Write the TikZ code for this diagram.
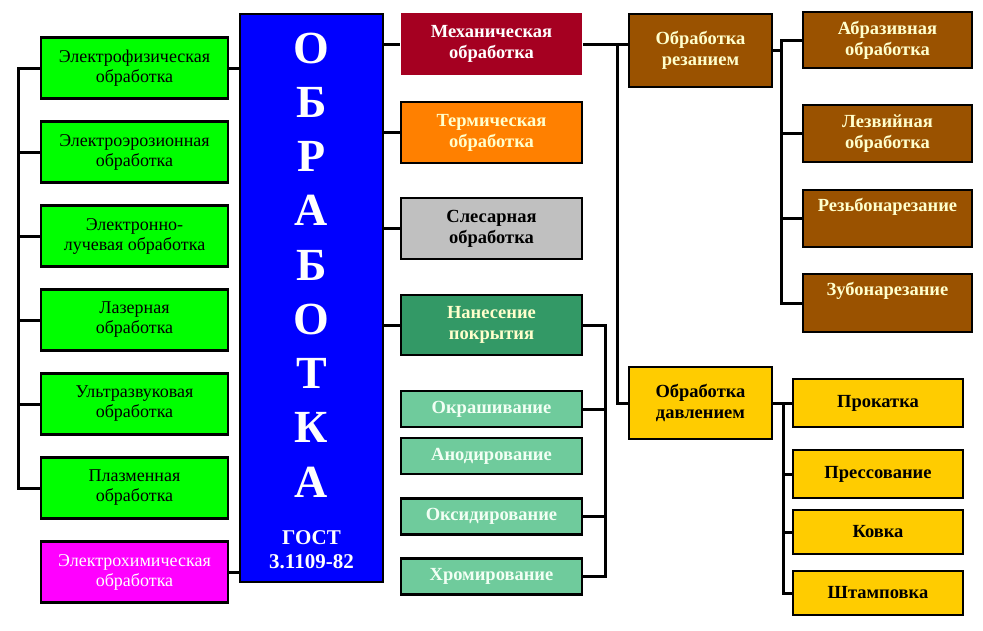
\documentclass[tikz,border=0pt]{standalone}
\usepackage{fontspec}
\setmainfont{Liberation Serif}

\definecolor{verde}{HTML}{00FF00}
\definecolor{rosa}{HTML}{FF00FF}
\definecolor{blu}{HTML}{0000FF}
\definecolor{cremisi}{HTML}{A50021}
\definecolor{arancio}{HTML}{FF8000}
\definecolor{grigio}{HTML}{C0C0C0}
\definecolor{verdescuro}{HTML}{339966}
\definecolor{verdechiaro}{HTML}{6FCB9C}
\definecolor{marrone}{HTML}{9A5200}
\definecolor{giallo}{HTML}{FFCC00}
\definecolor{crema}{HTML}{FFFFCC}
\definecolor{quasibianco}{HTML}{F2FFF4}

\begin{document}
\begin{tikzpicture}[x=1pt, y=-1pt,
    box/.style={draw=black, line width=2.8pt, align=center, inner sep=2pt},
    boxsin/.style={box, fill=verde, minimum width=187pt, minimum height=61pt, font=\fontsize{18}{20}\selectfont},
    boxmed/.style={box, minimum width=181pt, font=\fontsize{18.5}{21}\selectfont\bfseries},
    boxcop/.style={boxmed, fill=verdechiaro, text=quasibianco, minimum height=36pt},
    boxmar/.style={box, fill=marrone, text=crema, minimum width=169pt, font=\fontsize{18.5}{21}\selectfont\bfseries},
    boxgia/.style={box, fill=giallo, minimum width=170pt, minimum height=48pt, font=\fontsize{18.5}{21}\selectfont\bfseries},
    linea/.style={line width=3pt}]

    % Sfondo
    \fill[white] (0,0) rectangle (983,630);

    % Blocco centrale
    \node[box, fill=blu, minimum width=143pt, minimum height=568pt] (obr) at (311.5,298) {};
    \foreach \ch [count=\i] in {О,Б,Р,А,Б,О,Т,К,А}
        \node[text=white, font=\fontsize{46}{46}\selectfont\bfseries] (let\i) at (311.5,{48+54.25*(\i-1)}) {\ch};
    \node[text=white, align=center, font=\fontsize{21}{24}\selectfont\bfseries] (gost) at (311.5,550) {ГОСТ\\3.1109-82};

    % Colonna sinistra
    \node[boxsin] (efiz) at (134.5,68) {Электрофизическая\\обработка};
    \node[boxsin] (eero) at (134.5,152) {Электроэрозионная\\обработка};
    \node[boxsin] (eluc) at (134.5,236) {Электронно-\\лучевая обработка};
    \node[boxsin] (laser) at (134.5,320) {Лазерная\\обработка};
    \node[boxsin] (ultra) at (134.5,404) {Ультразвуковая\\обработка};
    \node[boxsin] (plasma) at (134.5,488) {Плазменная\\обработка};
    \node[boxsin, fill=rosa, text=white] (ehim) at (134.5,572) {Электрохимическая\\обработка};

    % Colonna centrale
    \node[boxmed, draw=none, fill=cremisi, text=white, minimum height=62pt] (mech) at (491.5,44) {Механическая\\обработка};
    \node[boxmed, fill=arancio, text=crema, minimum height=61pt] (term) at (491.5,132.5) {Термическая\\обработка};
    \node[boxmed, fill=grigio, minimum height=61pt] (sles) at (491.5,228.5) {Слесарная\\обработка};
    \node[boxmed, fill=verdescuro, text=crema, minimum height=60pt] (pokr) at (491.5,325) {Нанесение\\покрытия};
    \node[boxcop] (okr) at (491.5,409) {Окрашивание};
    \node[boxcop] (anod) at (491.5,456) {Анодирование};
    \node[boxcop] (oks) at (491.5,516.5) {Оксидирование};
    \node[boxcop] (hrom) at (491.5,576.5) {Хромирование};

    % Resezione
    \node[boxmar, minimum width=143pt, minimum height=73pt] (rez) at (700.5,50.5) {Обработка\\резанием};
    \node[boxmar, minimum height=56pt] (abr) at (887.5,40) {Абразивная\\обработка};
    \node[boxmar, minimum height=57pt] (lezv) at (887.5,133.5) {Лезвийная\\обработка};
    \node[boxmar, minimum height=57pt] (rezb) at (887.5,218.5) {Резьбонарезание\\\strut};
    \node[boxmar, minimum height=58pt] (zub) at (887.5,303) {Зубонарезание\\\strut};

    % Pressione
    \node[boxgia, minimum width=143pt, minimum height=72pt] (dav) at (700.5,403) {Обработка\\давлением};
    \node[boxgia] (prok) at (878,403) {Прокатка};
    \node[boxgia] (press) at (878,474) {Прессование};
    \node[boxgia, minimum height=44pt] (kovka) at (878,532) {Ковка};
    \node[boxgia, minimum height=44pt] (shtamp) at (878,593) {Штамповка};

    % Collegamenti a sinistra
    \coordinate (bsin) at (18,0);
    \draw[linea] (efiz.west) -- (efiz.west -| bsin) -- (plasma.west -| bsin) -- (plasma.west);
    \foreach \n in {eero,eluc,laser,ultra}
        \draw[linea] (\n.west) -- (\n.west -| bsin);
    \draw[linea] (efiz.east) -- (efiz.east -| obr.west);
    \draw[linea] (ehim.east) -- (ehim.east -| obr.west);

    % Collegamenti al centro
    \foreach \n in {mech,term,sles,pokr}
        \draw[linea] (\n.west) -- (\n.west -| obr.east);
    \coordinate (bpok) at (605,0);
    \draw[linea] (pokr.east) -- (pokr.east -| bpok) -- (hrom.east -| bpok) -- (hrom.east);
    \foreach \n in {okr,oks}
        \draw[linea] (\n.east) -- (\n.east -| bpok);

    % Collegamenti a destra
    \coordinate (bmec) at (617,0);
    \draw[linea] (mech.east) -- (mech.east -| rez.west);
    \draw[linea] (mech.east -| bmec) -- (dav.west -| bmec) -- (dav.west);
    \coordinate (brez) at (781,0);
    \draw[linea] (rez.east) -- (rez.east -| brez);
    \draw[linea] (abr.west) -- (abr.west -| brez) -- (zub.west -| brez) -- (zub.west);
    \foreach \n in {lezv,rezb}
        \draw[linea] (\n.west) -- (\n.west -| brez);
    \coordinate (bdav) at (783,0);
    \draw[linea] (dav.east) -- (prok.west);
    \draw[linea] (dav.east -| bdav) -- (shtamp.west -| bdav) -- (shtamp.west);
    \foreach \n in {press,kovka}
        \draw[linea] (\n.west) -- (\n.west -| bdav);
\end{tikzpicture}
\end{document}
